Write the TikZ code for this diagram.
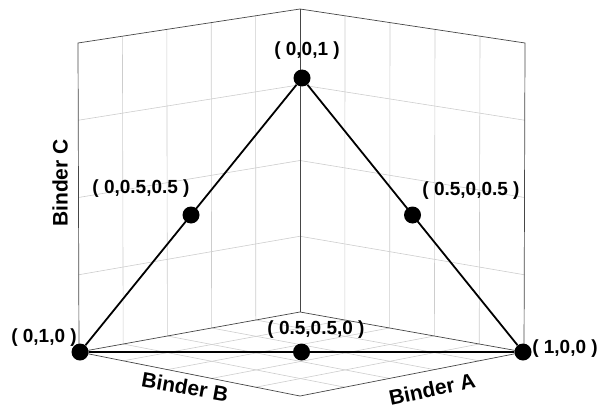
\documentclass[tikz,border=0pt]{standalone}
\usepackage{fontspec}
\setmainfont{Liberation Sans}
\usetikzlibrary{calc, positioning}
\definecolor{gridgray}{RGB}{205, 205, 205}
\definecolor{framegray}{RGB}{70, 70, 70}

\begin{document}
\begin{tikzpicture}[
    x=1pt, y=-1pt,
    font=\bfseries\fontsize{19}{22}\selectfont,
    gridline/.style={draw=gridgray, line width=0.6pt},
    frame/.style={draw=framegray, line width=0.7pt},
    edge/.style={draw=black, line width=1.8pt},
    vertex/.style={circle, fill=black, inner sep=0pt, minimum size=17pt},
    ptlabel/.style={inner sep=0pt},
    axislabel/.style={inner sep=0pt, font=\bfseries\fontsize{21}{24}\selectfont}
]
    \useasboundingbox (0,0) rectangle (601,409);
    % corners of the box
    \coordinate (TL) at (78,43);
    \coordinate (TB) at (300,9);
    \coordinate (TR) at (525,43);
    \coordinate (BL) at (79,352);
    \coordinate (BB) at (300,312);
    \coordinate (BR) at (524,352);
    \coordinate (BF) at (300,396);

    % grid on walls and floor
    \foreach \i in {1,...,4} {
        \draw[gridline] ($(TL)!\i/5!(TB)$) -- ($(BL)!\i/5!(BB)$);
        \draw[gridline] ($(TB)!\i/5!(TR)$) -- ($(BB)!\i/5!(BR)$);
        \draw[gridline] ($(BL)!\i/5!(BF)$) -- ($(BB)!\i/5!(BR)$);
        \draw[gridline] ($(BL)!\i/5!(BB)$) -- ($(BF)!\i/5!(BR)$);
    }
    \foreach \j in {1,2,3} {
        \draw[gridline] ($(TL)!\j/4!(BL)$) -- ($(TB)!\j/4!(BB)$);
        \draw[gridline] ($(TB)!\j/4!(BB)$) -- ($(TR)!\j/4!(BR)$);
    }
    \draw[frame] (BL) -- (TL) -- (TB) -- (TR) -- (BR);
    \draw[frame] (TB) -- (BB);
    \draw[frame] (BL) -- (BB) -- (BR) -- (BF) -- cycle;

    % composition triangle
    \node[vertex] (pA) at (523,352) {};
    \node[vertex] (pB) at (80,352) {};
    \node[vertex] (pC) at (302,78) {};
    \draw[edge] (pB) -- (pC) -- (pA) -- (pB);
    \node[vertex] (pBC) at ($(pB)!0.5!(pC)$) {};
    \node[vertex] (pAC) at ($(pA)!0.5!(pC)$) {};
    \node[vertex] (pAB) at ($(pA)!0.5!(pB)$) {};

    \node[ptlabel] (lC) at (307,51) {( 0,0,1 )};
    \node[ptlabel] (lBC) at (141,189) {( 0,0.5,0.5 )};
    \node[ptlabel] (lAC) at (471,191) {( 0.5,0,0.5 )};
    \node[ptlabel] (lB) at (44,338) {( 0,1,0 )};
    \node[ptlabel] (lA) at (565,349) {( 1,0,0 )};
    \node[ptlabel] (lAB) at (316,330) {( 0.5,0.5,0 )};

    \node[axislabel, rotate=90] (axC) at (60,183) {Binder C};
    \node[axislabel, rotate=-10] (axB) at (185,387) {Binder B};
    \node[axislabel, rotate=12] (axA) at (432,389) {Binder A};
\end{tikzpicture}
\end{document}
